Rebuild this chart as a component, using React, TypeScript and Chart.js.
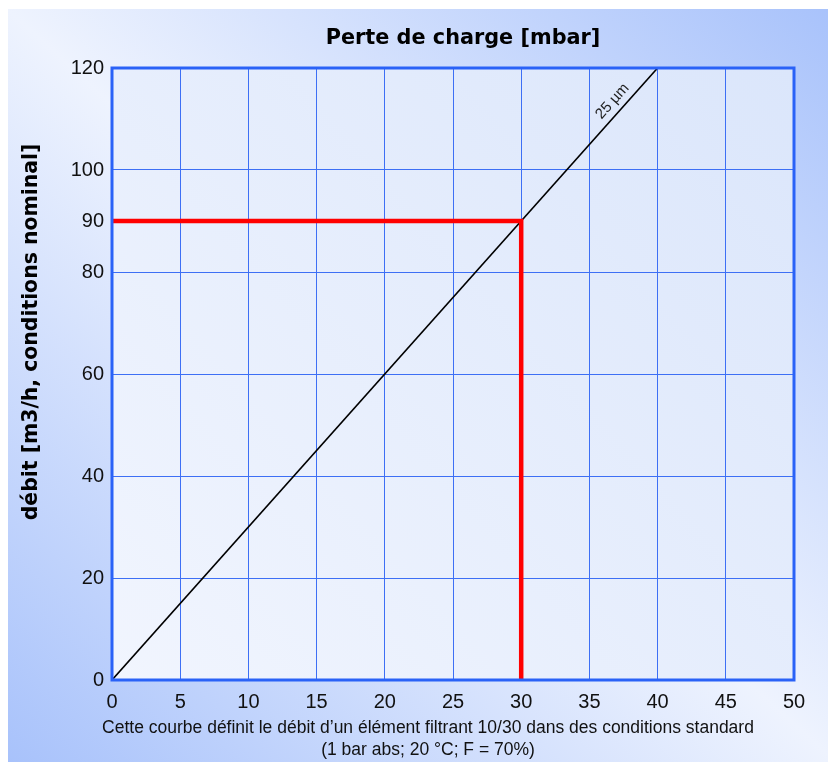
import React, { useEffect, useRef } from "react";
import { Chart, registerables } from "chart.js";

Chart.register(...registerables);

const titleText = "Perte de charge [mbar]";
const yTitleText = "débit [m3/h, conditions nominal]";
const footerLines = [
  "Cette courbe définit le débit d\u2019un élément filtrant 10/30 dans des conditions standard",
  "(1 bar abs; 20 °C; F = 70%)",
];
const curveLabel = "25 µm";

const curveX = [0, 40];
const curveY = [0, 120];
const markerX = [0, 30, 30];
const markerY = [90, 90, 0];
const yTickValues = [0, 20, 40, 60, 80, 90, 100, 120];
const xMin = 0;
const xMax = 50;
const xStep = 5;

const GRID = "#3d6ff5";
const FRAME = "#2a62f7";
const FONT = "'Liberation Sans', Arial, sans-serif";
const BOLD_FONT = "'DejaVu Sans', 'Liberation Sans', sans-serif";

const decorPlugin = {
  id: "decor",
  beforeDraw(chart: any) {
    const { ctx, chartArea } = chart;
    const { left, top, right, bottom } = chartArea;
    ctx.save();
    const g = ctx.createLinearGradient(left, bottom, right, top);
    g.addColorStop(0, "#f1f5fe");
    g.addColorStop(1, "#dbe6fb");
    ctx.fillStyle = g;
    ctx.fillRect(left, top, right - left, bottom - top);
    ctx.restore();
  },
  afterDatasetsDraw(chart: any) {
    const { ctx, chartArea, scales } = chart;
    const { left, top, right, bottom } = chartArea;
    ctx.save();
    ctx.strokeStyle = FRAME;
    ctx.lineWidth = 3;
    ctx.strokeRect(left, top, right - left, bottom - top);

    const xs = scales.x;
    const ys = scales.y;
    const x0 = xs.getPixelForValue(curveX[0]);
    const y0 = ys.getPixelForValue(curveY[0]);
    const x1 = xs.getPixelForValue(curveX[1]);
    const y1 = ys.getPixelForValue(curveY[1]);
    const ang = Math.atan2(y1 - y0, x1 - x0);
    const t = 0.933;
    const px = x0 + (x1 - x0) * t;
    const py = y0 + (y1 - y0) * t;
    ctx.translate(px, py);
    ctx.rotate(ang);
    ctx.font = `15px ${FONT}`;
    ctx.fillStyle = "#222";
    ctx.textAlign = "center";
    ctx.textBaseline = "bottom";
    ctx.fillText(curveLabel, 0, -4);
    ctx.restore();

    ctx.save();
    ctx.fillStyle = "#000";
    ctx.font = `bold 20.8px ${BOLD_FONT}`;
    ctx.textAlign = "center";
    ctx.textBaseline = "middle";
    ctx.fillText(titleText, 456, 30);

    ctx.font = `bold 20.4px ${BOLD_FONT}`;
    ctx.save();
    ctx.translate(25, 323);
    ctx.rotate(-Math.PI / 2);
    ctx.fillText(yTitleText, 0, 0);
    ctx.restore();

    ctx.font = `17.5px ${FONT}`;
    ctx.fillStyle = "#111";
    ctx.fillText(footerLines[0], 421, 719);
    ctx.fillText(footerLines[1], 421, 741);
    ctx.restore();
  },
};

export default function App() {
  const ref = useRef<HTMLCanvasElement | null>(null);

  useEffect(() => {
    if (!ref.current) return;
    const chart = new Chart(ref.current, {
      type: "line",
      data: {
        datasets: [
          {
            label: "marker",
            data: markerX.map((x, i) => ({ x, y: markerY[i] })),
            borderColor: "#ff0000",
            borderWidth: 4.5,
            pointRadius: 0,
            borderJoinStyle: "miter",
            borderCapStyle: "butt",
            tension: 0,
          },
          {
            label: curveLabel,
            data: curveX.map((x, i) => ({ x, y: curveY[i] })),
            borderColor: "#000",
            borderWidth: 1.6,
            pointRadius: 0,
            tension: 0,
          },
        ],
      },
      options: {
        animation: false,
        responsive: false,
        maintainAspectRatio: false,
        layout: { padding: { top: 59, right: 42, left: 0, bottom: 0 } },
        plugins: {
          legend: { display: false },
          title: { display: false },
          tooltip: { enabled: false },
        },
        scales: {
          x: {
            type: "linear",
            min: xMin,
            max: xMax,
            afterFit: (s: any) => {
              s.height = 82;
            },
            ticks: {
              stepSize: xStep,
              padding: 10,
              color: "#111",
              font: { family: FONT, size: 20 },
            },
            grid: { color: GRID, lineWidth: 1, drawTicks: false },
            border: { display: false },
          },
          y: {
            type: "linear",
            min: 0,
            max: 120,
            afterFit: (s: any) => {
              s.width = 105;
            },
            afterBuildTicks: (s: any) => {
              s.ticks = yTickValues.map((v) => ({ value: v }));
            },
            ticks: {
              padding: 8,
              color: "#111",
              font: { family: FONT, size: 20 },
            },
            grid: {
              color: (c: any) => (c.tick && c.tick.value === 90 ? "rgba(0,0,0,0)" : GRID),
              lineWidth: 1,
              drawTicks: false,
            },
            border: { display: false },
          },
        },
      } as any,
      plugins: [decorPlugin],
    });
    return () => chart.destroy();
  }, []);

  return (
    <div
      style={{
        marginLeft: -1,
        marginTop: 1,
        width: 829,
        height: 753,
        background:
          "linear-gradient(to top right, #a8c2fb 0%, #eef3fe 50%, #a8c2fb 100%)",
      }}
    >
      <canvas ref={ref} width={829} height={753} style={{ display: "block" }} />
    </div>
  );
}
